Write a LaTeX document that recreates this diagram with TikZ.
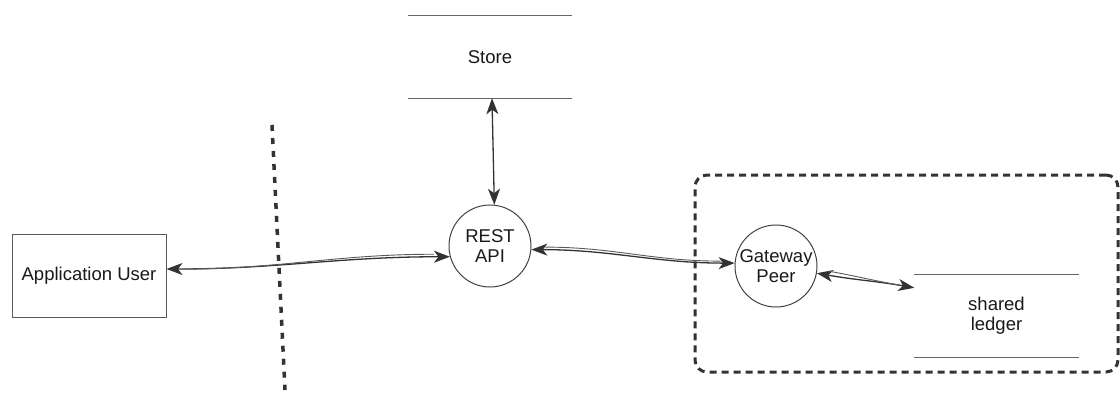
\documentclass[tikz,border=0pt]{standalone}
\usepackage{fontspec}
\setmainfont{Liberation Sans}
\usetikzlibrary{arrows.meta}
\begin{document}
\begin{tikzpicture}[x=1pt,y=-1pt,
  font=\fontsize{18.5}{20}\selectfont,
  proc/.style={circle,draw=black!75,line width=1pt,minimum size=82pt,inner sep=0pt,align=center,text=black!90},
  actor/.style={rectangle,draw=black!65,line width=1pt,minimum width=154pt,minimum height=83pt,inner sep=0pt,text=black!90},
  datastore/.style={rectangle,minimum width=164pt,minimum height=82pt,inner sep=0pt,align=center,text=black!90},
  storeline/.style={draw=black!60,line width=1.3pt},
  tip/.tip={Stealth[length=16pt,width=12pt,inset=4.5pt]},
  flow/.style={draw=black!80,line width=1.3pt,tip-tip},
  strand/.style={draw=black!65,line width=0.9pt},
  boundary/.style={draw=black!80,line width=3.5pt,dash pattern=on 6pt off 7pt},
  zone/.style={draw=black!80,line width=3pt,dash pattern=on 7pt off 5pt,rounded corners=12pt}]

\useasboundingbox (0,0) rectangle (1120,394);

% external actor and trust boundary
\node[actor] (app) at (89,275.5) {Application User};
\coordinate (b1) at (272,125);
\coordinate (b2) at (285,390);
\draw[boundary] (b1) -- (b2);

% processes
\node[proc] (rest) at (490,246) {REST\\API};
\node[proc] (gw) at (776,266) {Gateway\\Peer};

% data stores (open-ended, two horizontal rules)
\node[datastore] (store) at (490,57) {Store};
\draw[storeline] (store.north west) -- (store.north east);
\draw[storeline] (store.south west) -- (store.south east);

\node[datastore] (ledger) at (996.5,316) {shared\\ledger};
\draw[storeline] (ledger.north west) -- (ledger.north east);
\draw[storeline] (ledger.south west) -- (ledger.south east);

% network zone around the peer and ledger
\node[zone,minimum width=423pt,minimum height=197pt,inner sep=0pt] (net) at (906.5,273.5) {};

% data flows
\draw[flow] ([yshift=6.5pt]app.east) to[out=0,in=180] (rest.195);
\draw[strand] ([xshift=16pt,yshift=6.5pt]app.east) to[out=0,in=180] ([xshift=-16pt,yshift=2.5pt]rest.195);

\draw[flow] ([xshift=2pt]store.south) -- (rest.84);

\draw[flow] (rest.-5) to[out=0,in=180] (gw.176);
\draw[strand] ([xshift=14pt,yshift=2.5pt]rest.-5) to[out=0,in=180] ([xshift=-14pt,yshift=2pt]gw.176);

\draw[flow] (gw.-10) to[out=-10,in=170] ([yshift=-13pt]ledger.north west);
\draw[strand] ([xshift=12pt,yshift=2pt]gw.-10) to[out=-10,in=170] ([xshift=-14pt,yshift=-10.5pt]ledger.north west);
\end{tikzpicture}
\end{document}
